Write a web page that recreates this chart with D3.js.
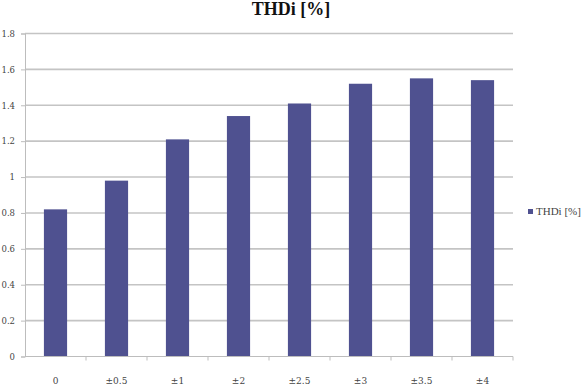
<!DOCTYPE html>
<html><head><meta charset="utf-8">
<script src="https://cdn.jsdelivr.net/npm/d3@7"></script>
<style>body{margin:0;background:#fff}svg{display:block}</style>
</head><body>
<script>
const categories = ["0","±0.5","±1","±2","±2.5","±3","±3.5","±4"];
const values = [0.82,0.98,1.21,1.34,1.41,1.52,1.55,1.54];
const yTicks = [0,0.2,0.4,0.6,0.8,1,1.2,1.4,1.6,1.8];
const seriesName = "THDi [%]";
const title = "THDi [%]";

const W=587,H=390;
const svg=d3.select("body").append("svg").attr("width",W).attr("height",H);
const mLeft=25,mRight=513,mTop=33.5,mBottom=356.5;
const x=d3.scaleBand().domain(categories).range([mLeft,mRight]).paddingInner(0.62).paddingOuter(0.31);
const xb=d3.scaleBand().domain(categories).range([mLeft,mRight]);
const y=d3.scaleLinear().domain([0,1.8]).range([mBottom,mTop]);
const font="'DejaVu Serif', 'Liberation Serif', serif";
const tfont="'Liberation Serif', serif";

// grid
svg.append("g").selectAll("line").data(yTicks.filter(d=>d>0)).join("line")
 .attr("x1",mLeft).attr("x2",mRight).attr("y1",d=>y(d)).attr("y2",d=>y(d))
 .attr("stroke","#c4c4c4").attr("stroke-width",1.6);

// bars
svg.append("g").selectAll("rect").data(values).join("rect")
 .attr("x",(d,i)=>x(categories[i])).attr("width",x.bandwidth())
 .attr("y",d=>y(d)).attr("height",d=>mBottom-y(d)).attr("fill","#4f5190");

// y axis
const ya=svg.append("g").attr("transform",`translate(${mLeft},0)`)
 .call(d3.axisLeft(y).tickValues(yTicks).tickSize(4).tickPadding(6).tickFormat(d3.format("")));
ya.select(".domain").attr("stroke","#bdbdbd");
ya.selectAll(".tick line").attr("stroke","#bdbdbd");
ya.selectAll("text").attr("font-family",font).attr("font-size",8.5).attr("fill","#444");

// x axis
const xa=svg.append("g").attr("transform",`translate(0,${mBottom})`)
 .call(d3.axisBottom(x).tickSize(0).tickPadding(21));
xa.select(".domain").attr("stroke","#bdbdbd").attr("d",`M${mLeft},0H${mRight}`);
xa.selectAll("text").attr("font-family",font).attr("font-size",9).attr("fill","#444");
svg.append("g").selectAll("line").data(categories).join("line")
 .attr("x1",(d,i)=>mLeft+xb.step()*(i+1)).attr("x2",(d,i)=>mLeft+xb.step()*(i+1))
 .attr("y1",mBottom).attr("y2",mBottom+4).attr("stroke","#bdbdbd");

// title
svg.append("text").attr("x",291).attr("y",15).attr("text-anchor","middle")
 .attr("font-family",tfont).attr("font-weight","bold").attr("font-size",18).attr("fill","#111").text(title);

// legend
svg.append("rect").attr("x",528).attr("y",209).attr("width",5).attr("height",5).attr("fill","#4f5190");
svg.append("text").attr("x",536).attr("y",215).attr("font-family",tfont).attr("font-size",11).attr("fill","#444").text(seriesName);
</script>
</body></html>
